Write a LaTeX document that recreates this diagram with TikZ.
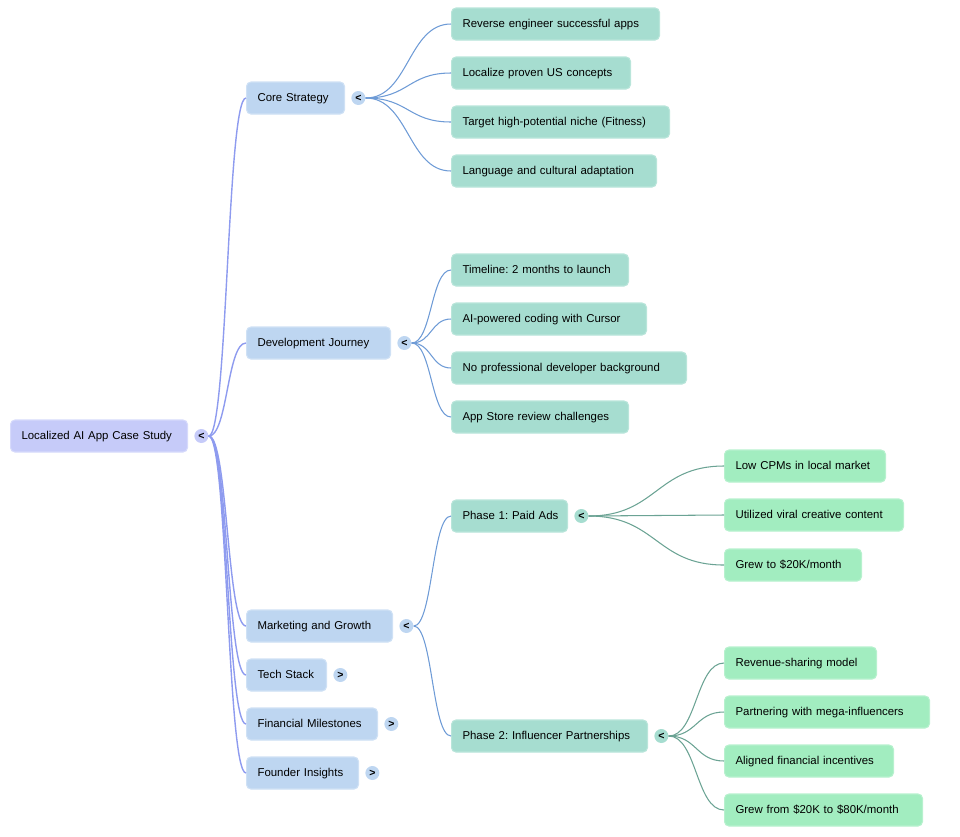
\documentclass[tikz,border=0pt]{standalone}
\usepackage{fontspec}
\setmainfont{Liberation Sans}
\usetikzlibrary{positioning}
\definecolor{rootfill}{HTML}{C6CBF9}
\definecolor{rootline}{HTML}{D6DAFB}
\definecolor{topfill}{HTML}{BED6F1}
\definecolor{topline}{HTML}{CFE1F5}
\definecolor{subfill}{HTML}{A6DDD0}
\definecolor{subline}{HTML}{B9E5DA}
\definecolor{leaffill}{HTML}{A2EDC0}
\definecolor{leafline}{HTML}{B7F1CE}
\definecolor{rootedge}{HTML}{8E9BEF}
\definecolor{topedge}{HTML}{6E9BD6}
\definecolor{subedge}{HTML}{6BA394}
\begin{document}
\begin{tikzpicture}[x=0.02cm, y=-0.02cm,
    box/.style={anchor=west, rounded corners=2.5pt, minimum height=0.64cm,
      inner xsep=0.22cm, inner ysep=0pt, align=left, line width=0.6pt,
      text height=5pt, text depth=1.4pt,
      font=\fontsize{6.5}{8}\selectfont\frenchspacing},
    rootbox/.style={box, fill=rootfill, draw=rootline},
    topbox/.style={box, fill=topfill, draw=topline},
    subbox/.style={box, fill=subfill, draw=subline},
    leafbox/.style={box, fill=leaffill, draw=leafline},
    toggle/.style={circle, inner sep=0pt, minimum size=0.28cm,
      font=\fontsize{6}{6}\selectfont\bfseries},
    rootlink/.style={draw=rootedge, line width=0.8pt},
    toplink/.style={draw=topedge, line width=0.6pt},
    sublink/.style={draw=subedge, line width=0.6pt}]
  \useasboundingbox (0,0) rectangle (960,836);

  \node[rootbox, text width=3.10cm] (root) at (10,436) {Localized AI App Case Study};
  \node[toggle, fill=rootfill, right=0.12cm of root] (rt) {<};

  \node[topbox, text width=1.52cm] (cs) at (246,98) {Core Strategy};
  \node[topbox, text width=2.44cm] (dj) at (246,343) {Development Journey};
  \node[topbox, text width=2.48cm] (mg) at (246,626) {Marketing and Growth};
  \node[topbox, text width=1.16cm] (ts) at (246,675) {Tech Stack};
  \node[topbox, text width=2.18cm] (fm) at (246,724) {Financial Milestones};
  \node[topbox, text width=1.80cm] (fi) at (246,773) {Founder Insights};
  \node[toggle, fill=topfill, right=0.12cm of cs] (cst) {<};
  \node[toggle, fill=topfill, right=0.12cm of dj] (djt) {<};
  \node[toggle, fill=topfill, right=0.12cm of mg] (mgt) {<};
  \node[toggle, fill=topfill, right=0.12cm of ts] (tst) {>};
  \node[toggle, fill=topfill, right=0.12cm of fm] (fmt) {>};
  \node[toggle, fill=topfill, right=0.12cm of fi] (fit) {>};

  \node[subbox, text width=3.72cm] (cs1) at (451,24) {Reverse engineer successful apps};
  \node[subbox, text width=3.14cm] (cs2) at (451,73) {Localize proven US concepts};
  \node[subbox, text width=3.92cm] (cs3) at (451,122) {Target high-potential niche (Fitness)};
  \node[subbox, text width=3.66cm] (cs4) at (451,171) {Language and cultural adaptation};

  \node[subbox, text width=3.10cm] (dj1) at (451,270) {Timeline: 2 months to launch};
  \node[subbox, text width=3.46cm] (dj2) at (451,319) {AI-powered coding with Cursor};
  \node[subbox, text width=4.26cm] (dj3) at (451,368) {No professional developer background};
  \node[subbox, text width=3.10cm] (dj4) at (451,417) {App Store review challenges};

  \node[subbox, text width=1.88cm] (p1) at (451,516) {\mbox{Phase 1: Paid Ads}};
  \node[subbox, text width=3.48cm] (p2) at (451,736) {Phase 2: Influencer Partnerships};
  \node[toggle, fill=subfill, right=0.12cm of p1] (p1t) {<};
  \node[toggle, fill=subfill, right=0.12cm of p2] (p2t) {<};

  \node[leafbox, text width=2.78cm] (p11) at (724,466) {Low CPMs in local market};
  \node[leafbox, text width=3.14cm] (p12) at (724,515) {Utilized viral creative content};
  \node[leafbox, text width=2.30cm] (p13) at (724,565) {Grew to \$20K/month};

  \node[leafbox, text width=2.60cm] (p21) at (724,663) {Revenue-sharing model};
  \node[leafbox, text width=3.66cm] (p22) at (724,712) {Partnering with mega-influencers};
  \node[leafbox, text width=2.94cm] (p23) at (724,761) {Aligned financial incentives};
  \node[leafbox, text width=3.52cm] (p24) at (724,810) {Grew from \$20K to \$80K/month};

  \foreach \n in {cs,dj,mg,ts,fm,fi}
    \draw[rootlink] (rt.east) .. controls +(19,0) and +(-19,0) .. (\n.west);
  \foreach \n in {cs1,cs2,cs3,cs4}
    \draw[toplink] (cst.east) .. controls +(43,0) and +(-43,0) .. (\n.west);
  \foreach \n in {dj1,dj2,dj3,dj4}
    \draw[toplink] (djt.east) .. controls +(20,0) and +(-20,0) .. (\n.west);
  \foreach \n in {p1,p2}
    \draw[toplink] (mgt.east) .. controls +(19,0) and +(-19,0) .. (\n.west);
  \foreach \n in {p11,p12,p13}
    \draw[sublink] (p1t.east) .. controls +(68,0) and +(-68,0) .. (\n.west);
  \foreach \n in {p21,p22,p23,p24}
    \draw[sublink] (p2t.east) .. controls +(28,0) and +(-28,0) .. (\n.west);
\end{tikzpicture}
\end{document}
